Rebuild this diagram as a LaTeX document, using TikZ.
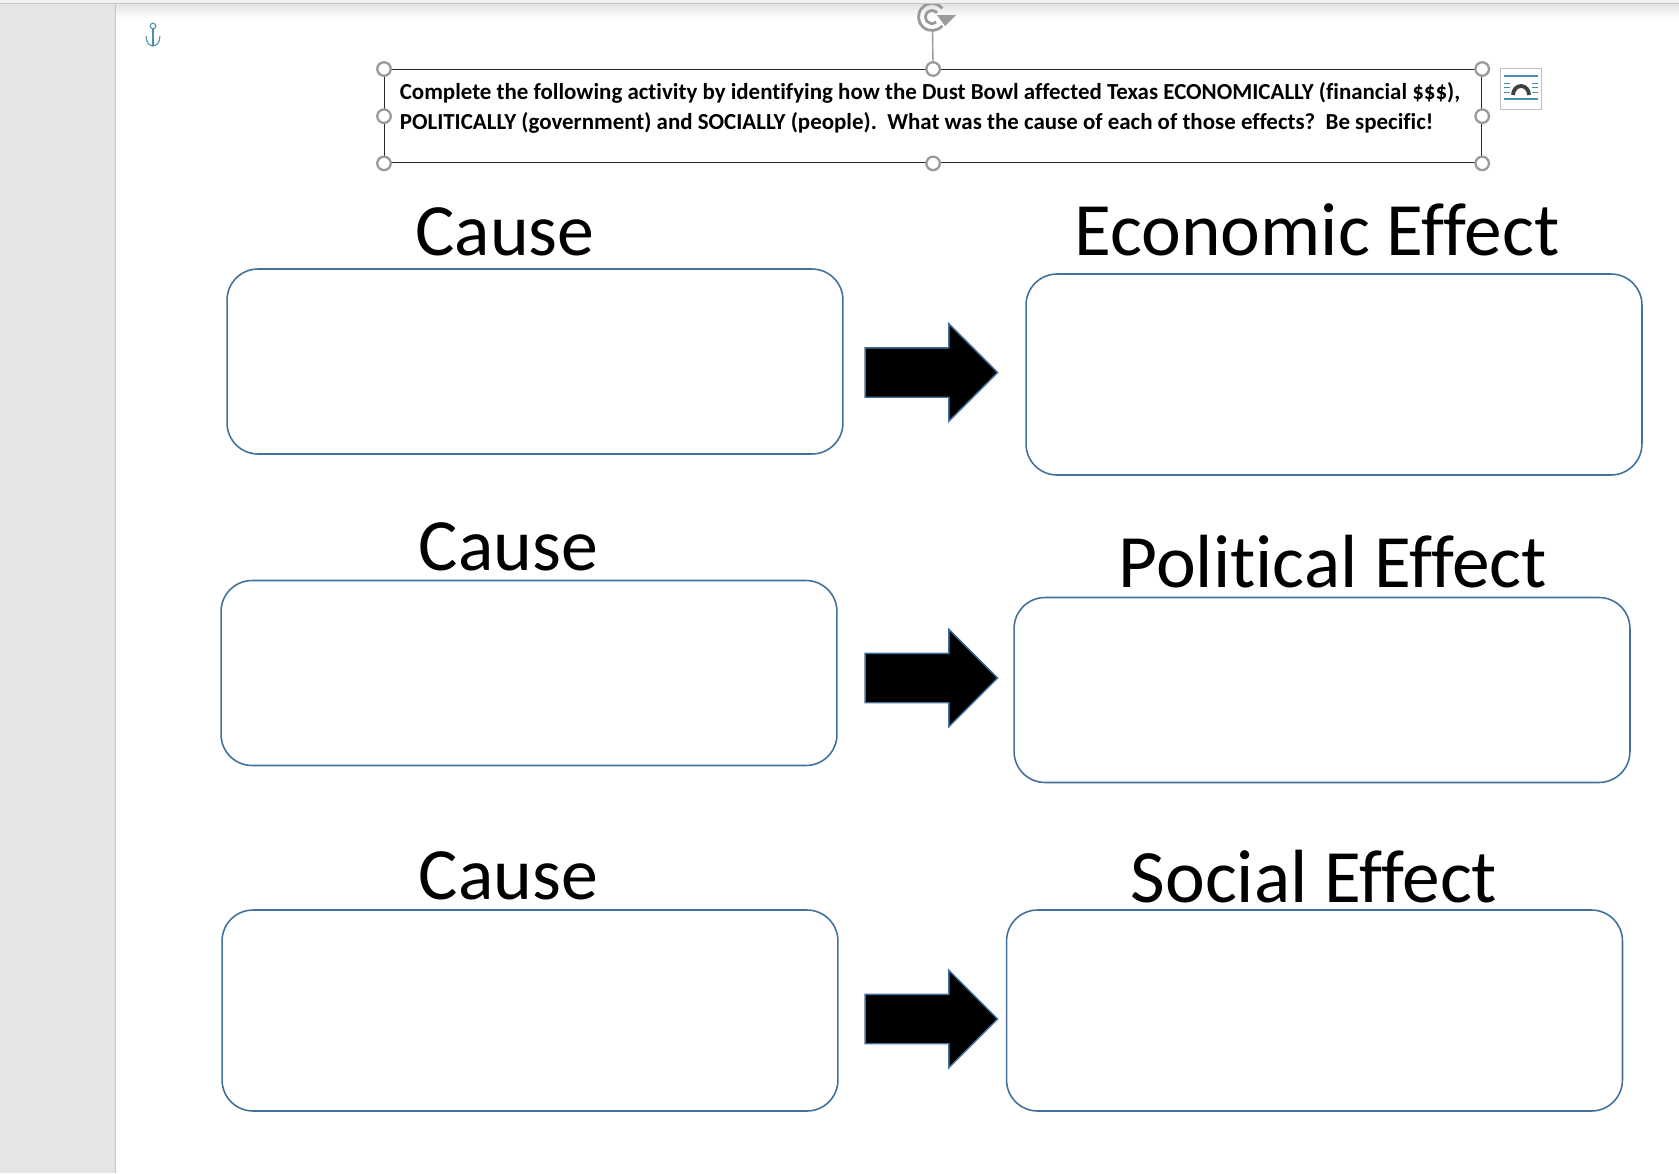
\documentclass[tikz,border=0pt]{standalone}
\usepackage{fontspec}
\setmainfont[Ligatures=CommonOff]{Carlito}
\usetikzlibrary{shapes.arrows}
\definecolor{boxline}{HTML}{41719C}
\definecolor{handleline}{HTML}{9A9A9A}
\definecolor{wrapline}{HTML}{4A90AE}
\tikzset{
  answerbox/.style={draw=boxline, line width=0.9pt, fill=white, rounded corners=0.62cm,
    minimum width=12.32cm, inner sep=0pt},
  title/.style={anchor=base, inner sep=0pt, font=\fontsize{42}{42}\selectfont},
  effecttitle/.style={anchor=base, inner sep=0pt, font=\fontsize{42.9}{43}\selectfont},
  blockarrow/.style={single arrow, draw=boxline, fill=black, line width=0.8pt, inner sep=0pt,
    minimum height=2.65cm, text height=0.96cm, text depth=0pt, single arrow head extend=0.48cm},
  handle/.style={circle, draw=handleline, fill=white, line width=1.3pt,
    minimum size=0.27cm, inner sep=0pt}
}
\begin{document}
\begin{tikzpicture}[x=0.02cm,y=-0.02cm]
\useasboundingbox (0,0) rectangle (1679,1173);
\fill[white] (0,0) rectangle (1679,1173);
\fill[gray!20] (0,0) rectangle (115,1173);
\draw[gray!45, line width=0.3pt] (115.5,4) -- (115.5,1173);
\shade[top color=gray!22, bottom color=white] (116,4) rectangle (1679,18);
\draw[wrapline, line width=0.6pt] (153,29) -- (153,46);
\draw[wrapline, line width=0.6pt] (153,26) circle (2.8);
\draw[wrapline, line width=0.6pt] (146,36) .. controls (146,43) and (150,46) .. (153,46)
  .. controls (156,46) and (160,43) .. (160,36);
\node[draw=black!85, line width=0.8pt, anchor=north west, inner sep=0pt,
  minimum width=21.94cm, minimum height=1.86cm] (tbox) at (384,69) {};
\node[anchor=north west, align=left, inner sep=0pt,
  font=\fontsize{13.05}{17}\bfseries\selectfont] (intro) at (399.5,82)
  {Complete the following activity by identifying how the Dust Bowl affected Texas ECONOMICALLY (financial \$\$\$),\\
   POLITICALLY (government) and SOCIALLY (people).\ \ What was the cause of each of those effects?\ \ Be specific!};
\coordinate (rot) at (932.5,32);
\draw[handleline, line width=0.8pt] (rot) -- (tbox.north);
\draw[handleline, line width=1.6pt] (932,17) +(40:13.5) arc (40:320:13.5);
\draw[handleline, line width=1.6pt] (932,17) +(50:6.5) arc (50:320:6.5);
\fill[handleline] (937,15) -- (956,15) -- (945,26) -- cycle;
\fill[gray!10] (0,0) rectangle (1679,3);
\draw[gray!45, line width=0.5pt] (0,3.5) -- (1679,3.5);
\foreach \a in {north west, north, north east, west, east, south west, south, south east}
  \node[handle] at (tbox.\a) {};
\node[draw=gray!50, fill=white, line width=0.4pt, minimum size=0.82cm, inner sep=0pt] (wrap) at (1521,88.5) {};
\draw[wrapline, line width=0.7pt] (1504,76) -- (1538,76);
\draw[wrapline, line width=0.7pt] (1504,99) -- (1538,99);
\foreach \y in {83, 87.5, 92}{
  \draw[wrapline, line width=0.5pt] (1504,\y) -- (1510,\y);
  \draw[wrapline, line width=0.5pt] (1532,\y) -- (1538,\y);
}
\draw[black!75, line width=2.2pt] (1513,95) arc (180:360:8 and 9);
\foreach \nm/\x/\y/\h in {causeone/535/361.5/3.7, causetwo/529/673/3.7, causethree/530/1010.5/4.02,
    effectone/1334/374.5/4.02, effecttwo/1322/690/3.7, effectthree/1314.5/1010.5/4.02}
  \node[answerbox, minimum height=\h cm] (\nm) at (\x,\y) {};
\foreach \nm/\y in {arrowone/372.5, arrowtwo/678, arrowthree/1019}
  \node[blockarrow] (\nm) at (919,\y) {};
\node[title] (causea) at (505,255.5) {Cause};
\node[title] (causeb) at (508.5,570) {Cause};
\node[title] (causec) at (508.5,899) {Cause};
\node[effecttitle] (econ) at (1317,255) {Economic Effect};
\node[effecttitle] (poli) at (1333,587) {Political Effect};
\node[effecttitle] (soci) at (1314,902.5) {Social Effect};
\end{tikzpicture}
\end{document}
